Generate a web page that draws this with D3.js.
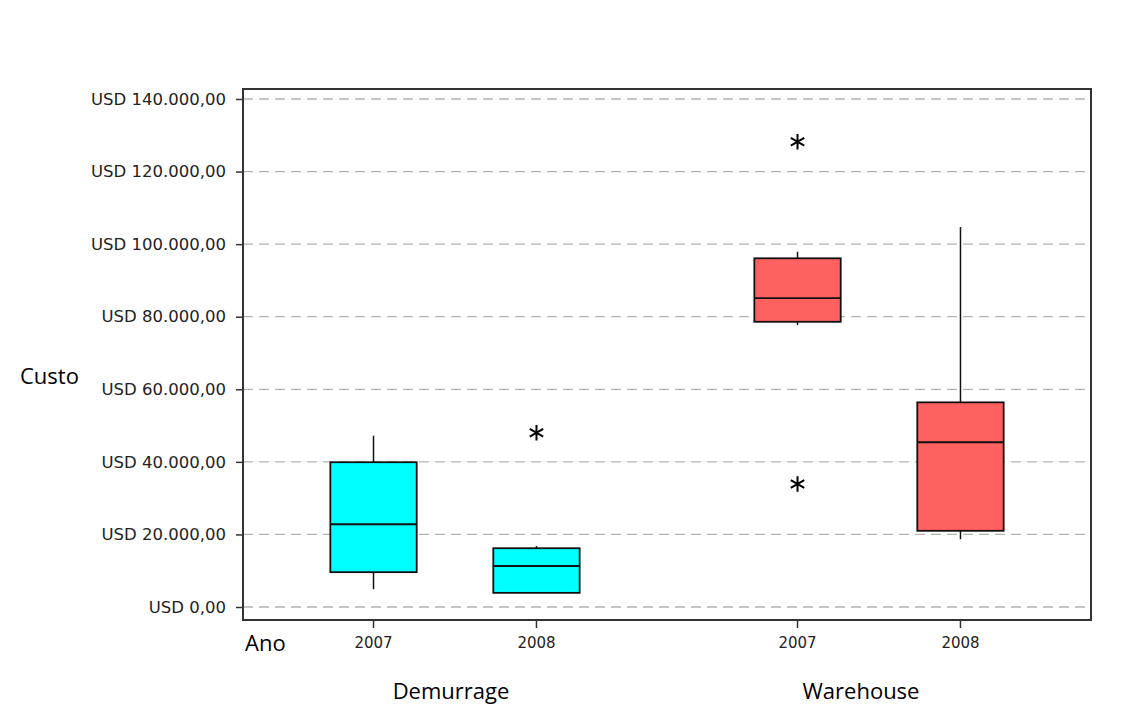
<!DOCTYPE html>
<html>
<head>
	<meta charset="utf-8">
	<title>Custo por Ano - Demurrage x Warehouse</title>
	<script src="https://d3js.org/d3.v7.min.js"></script>
	<style>
		body { margin: 0; background: #fff; }
		.tick text { font-family: "DejaVu Sans", Verdana, sans-serif; fill: #222; }
		.lbl { font-family: "Open Sans", "Liberation Sans", sans-serif; fill: #000; }
	</style>
</head>
<body>
	<script>
		// categories
		var groups = ["Demurrage", "Warehouse"],
			years = ["2007", "2008"];

		// box plot values, order: Demurrage 2007, Demurrage 2008, Warehouse 2007, Warehouse 2008
		var whiskerLow  = [4900, 3900, 77700, 18700],
			q1          = [9600, 3900, 78600, 21000],
			median      = [22800, 11300, 85100, 45400],
			q3          = [39900, 16200, 96100, 56400],
			whiskerHigh = [47200, 16800, 97900, 104700],
			outliers    = [[], [48000], [128200, 33900], []];

		// tick values of the cost axis
		var yTicks = [0, 20000, 40000, 60000, 80000, 100000, 120000, 140000];

		var colors = {"Demurrage": "#00ffff", "Warehouse": "#ff6060"};

		var svgWidth = 1128,
			svgHeight = 707,
			frame = {left: 243, right: 1091, top: 89, bottom: 620},
			labelShift = [-4, -18], // group titles sit a bit left of the group centre
			svg = d3.select("body")
				.append("svg")
				.attr("width", svgWidth)
				.attr("height", svgHeight);

		var brl = d3.formatLocale({decimal: ",", thousands: ".", grouping: [3], currency: ["", ""]}),
			fmt = brl.format(",.2f");

		var y = d3.scaleLinear()
				.domain([0, 140000])
				.range([607, 99]),
			x0 = d3.scaleBand()
				.domain(groups)
				.range([frame.left, frame.right]),
			x1 = d3.scaleBand()
				.domain(years)
				.range([0, x0.bandwidth()])
				.paddingInner(0.47)
				.paddingOuter(0.536);

		// build one row per box from the arrays
		var boxes = [];
		groups.forEach(function(g, gi) {
			years.forEach(function(yr, yi) {
				var i = gi * years.length + yi;
				boxes.push({group: g, year: yr, lo: whiskerLow[i], q1: q1[i], med: median[i],
					q3: q3[i], hi: whiskerHigh[i], out: outliers[i]});
			});
		});

		// dashed grid lines
		svg.append("g")
			.selectAll("line")
			.data(yTicks)
			.enter().append("line")
			.attr("x1", frame.left)
			.attr("x2", frame.right)
			.attr("y1", function(d) { return y(d); })
			.attr("y2", function(d) { return y(d); })
			.attr("stroke", "#b4b4b4")
			.attr("stroke-width", 1.3)
			.attr("stroke-dasharray", "10,6");

		// y axis
		var yAxis = svg.append("g")
			.attr("transform", "translate(" + frame.left + ",0)")
			.call(d3.axisLeft(y).tickValues(yTicks).tickSize(7).tickSizeOuter(0).tickPadding(10)
				.tickFormat(function(d) { return "USD " + fmt(d); }));
		yAxis.select(".domain").remove();
		yAxis.selectAll(".tick line").attr("stroke", "#333").attr("stroke-width", 1.5);
		yAxis.selectAll(".tick text").attr("font-size", 16.5);

		// x axis, one per group
		groups.forEach(function(g) {
			var ax = svg.append("g")
				.attr("transform", "translate(" + x0(g) + "," + frame.bottom + ")")
				.call(d3.axisBottom(x1).tickSize(8).tickSizeOuter(0).tickPadding(9));
			ax.select(".domain").remove();
			ax.selectAll(".tick line").attr("stroke", "#333").attr("stroke-width", 1.5);
			ax.selectAll(".tick text").attr("font-size", 15);
		});

		var box = svg.append("g")
			.selectAll("g")
			.data(boxes)
			.enter().append("g")
			.attr("transform", function(d) { return "translate(" + (x0(d.group) + x1(d.year)) + ",0)"; });

		var bw = x1.bandwidth();

		// whiskers
		box.append("line")
			.attr("x1", bw / 2).attr("x2", bw / 2)
			.attr("y1", function(d) { return y(d.hi); })
			.attr("y2", function(d) { return y(d.q3); })
			.attr("stroke", "#111").attr("stroke-width", 1.5);
		box.append("line")
			.attr("x1", bw / 2).attr("x2", bw / 2)
			.attr("y1", function(d) { return y(d.q1); })
			.attr("y2", function(d) { return y(d.lo); })
			.attr("stroke", "#111").attr("stroke-width", 1.5);

		// boxes
		box.append("rect")
			.attr("x", 0)
			.attr("width", bw)
			.attr("y", function(d) { return y(d.q3); })
			.attr("height", function(d) { return y(d.q1) - y(d.q3); })
			.attr("fill", function(d) { return colors[d.group]; })
			.attr("stroke", "#111")
			.attr("stroke-width", 1.8);

		// medians
		box.append("line")
			.attr("x1", 0).attr("x2", bw)
			.attr("y1", function(d) { return y(d.med); })
			.attr("y2", function(d) { return y(d.med); })
			.attr("stroke", "#111").attr("stroke-width", 1.8);

		// outliers
		box.selectAll("path.out")
			.data(function(d) { return d.out; })
			.enter().append("path")
			.attr("class", "out")
			.attr("transform", function(d) { return "translate(" + bw / 2 + "," + y(d) + ")"; })
			.attr("d", d3.symbol(d3.symbolAsterisk, 170))
			.attr("fill", "none")
			.attr("stroke", "#000")
			.attr("stroke-width", 2);

		// frame
		svg.append("rect")
			.attr("x", frame.left)
			.attr("y", frame.top)
			.attr("width", frame.right - frame.left)
			.attr("height", frame.bottom - frame.top)
			.attr("fill", "none")
			.attr("stroke", "#333")
			.attr("stroke-width", 2);

		// labels
		svg.append("text").attr("class", "lbl")
			.attr("x", 20).attr("y", 384)
			.attr("font-size", 22)
			.text("Custo");
		svg.append("text").attr("class", "lbl")
			.attr("x", 245).attr("y", 651)
			.attr("font-size", 22)
			.text("Ano");
		svg.append("g")
			.selectAll("text")
			.data(groups)
			.enter().append("text")
			.attr("class", "lbl")
			.attr("x", function(d, i) { return x0(d) + x0.bandwidth() / 2 + labelShift[i]; })
			.attr("y", 699)
			.attr("text-anchor", "middle")
			.attr("font-size", 22)
			.text(function(d) { return d; });
	</script>
</body>
</html>
